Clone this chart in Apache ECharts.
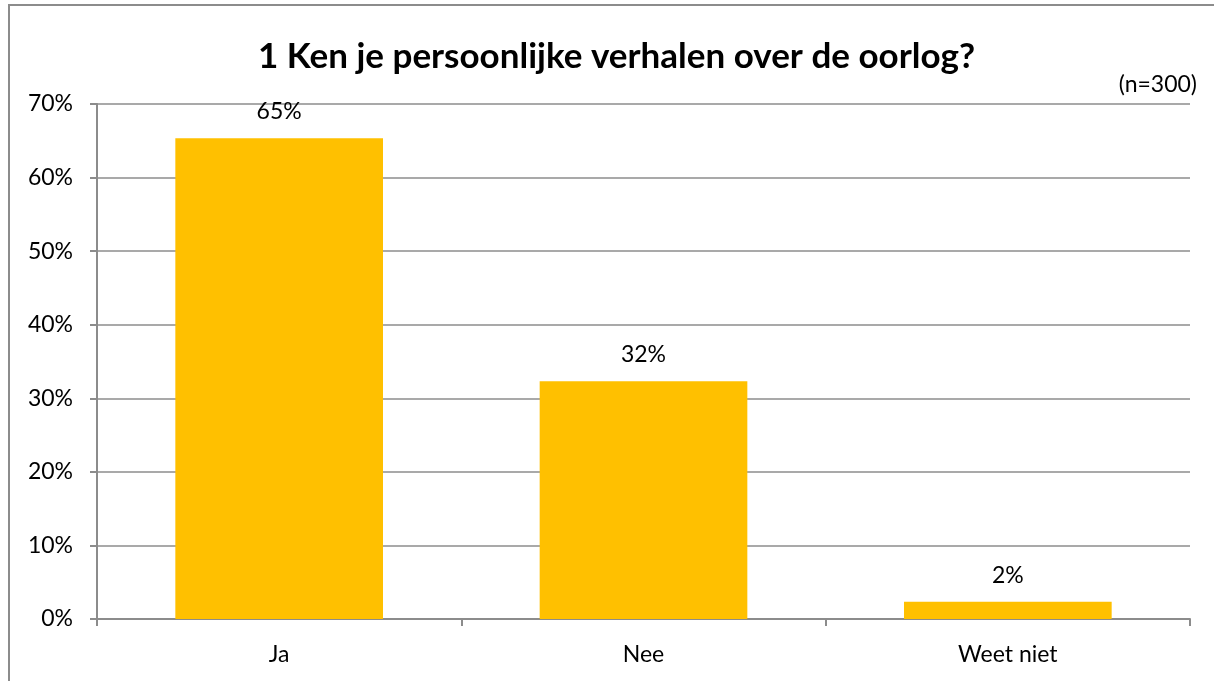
<!DOCTYPE html>
<html>
<head>
<meta charset="utf-8">
<script src="https://cdn.jsdelivr.net/npm/echarts@6/dist/echarts.min.js"></script>
<style>
  html, body { margin: 0; padding: 0; background: #fff; overflow: hidden; }
  #frame { position: absolute; left: 8px; top: 4px; width: 1300px; height: 800px; border-top: 2px solid #8c8c8c; border-left: 2px solid #8c8c8c; }
  #chart { position: absolute; left: 0; top: 0; width: 1214px; height: 681px; }
</style>
</head>
<body>
<div id="frame"></div>
<div id="chart"></div>
<script>
// antwoorden (n=300)
const categories = ['Ja', 'Nee', 'Weet niet']
const percentages = [65.33, 32.33, 2.33]
const yTicks = [0, 10, 20, 30, 40, 50, 60, 70]

const font = 'Lato, "Open Sans", sans-serif'
const chart = echarts.init(document.getElementById('chart'), null, { renderer: 'canvas' })

chart.setOption({
  animation: false,
  title: [
    {
      text: '1 Ken je persoonlijke verhalen over de oorlog?',
      left: 253,
      top: 34,
      textStyle: { fontFamily: font, fontSize: 35, fontWeight: 'bold', color: '#000' }
    },
    {
      text: '(n=300)',
      right: 12,
      top: 68,
      textStyle: { fontFamily: font, fontSize: 23, fontWeight: 'normal', color: '#000' }
    }
  ],
  grid: {
    left: 97,
    right: 24,
    top: 104,
    bottom: 62
  },
  xAxis: {
    type: 'category',
    data: categories,
    axisLine: { lineStyle: { color: '#8c8c8c', width: 2 } },
    axisTick: { show: true, length: 7, lineStyle: { color: '#8c8c8c', width: 2 } },
    axisLabel: { margin: 24, fontFamily: font, fontSize: 23, color: '#000' }
  },
  yAxis: {
    type: 'value',
    min: yTicks[0],
    max: yTicks[yTicks.length - 1],
    interval: 10,
    axisLine: { show: true, lineStyle: { color: '#8c8c8c', width: 2 } },
    axisTick: { show: true, length: 7, lineStyle: { color: '#8c8c8c', width: 2 } },
    splitLine: { lineStyle: { color: '#8c8c8c', width: 1.5 } },
    axisLabel: {
      margin: 24,
      fontFamily: font,
      fontSize: 23,
      color: '#000',
      formatter: '{value}%'
    }
  },
  series: [
    {
      type: 'bar',
      data: percentages,
      barWidth: '57%',
      itemStyle: { color: '#ffc000' },
      label: {
        show: true,
        position: 'top',
        distance: 15,
        fontFamily: font,
        fontSize: 23,
        color: '#000',
        formatter: p => Math.round(p.value) + '%'
      }
    }
  ]
})
</script>
</body>
</html>
